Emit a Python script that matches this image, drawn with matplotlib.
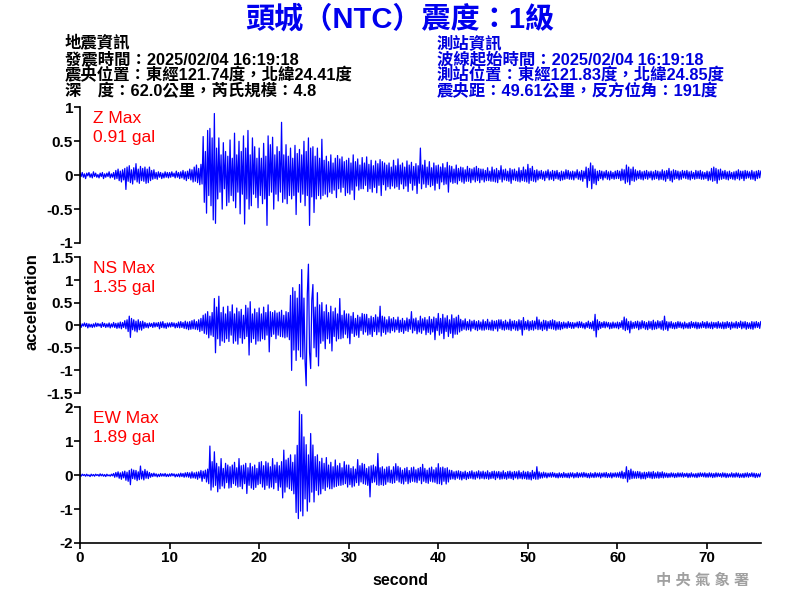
import numpy as np
import matplotlib
matplotlib.use("Agg")
import matplotlib.pyplot as plt
from matplotlib.ticker import FormatStrFormatter

plt.rcParams['font.family'] = ['Liberation Sans', 'Noto Sans CJK TC', 'DejaVu Sans']
plt.rcParams['axes.unicode_minus'] = False

# sampling step of the hand-read traces (seconds)
dt = 0.125

# values in 0.01 gal, 40 samples (5 s) per row
z_vals = [
    3, -2, 4, -3, 2, -5, 3, -1, 4, -3, 2, -4, 5, -2, 3, -3, 1, -4, 3, -2, 4, -5, 2, -3, 3, -2, 5, -4, 2, -3, 4, -6, 7, -5, 9, -8, 6, -10, 8, -7,
    10, -21, 12, -9, 14, -11, 8, -13, 11, -7, 17, -10, 9, -12, 13, -8, 10, -9, 12, -12, 9, -11, 12, -8, 7, -6, 8, -5, 4, -6, 5, -3, 4, -5, 3, -4, 5, -3, 4, -4,
    4, -3, 5, -2, 3, -4, 6, -3, 4, -5, 5, -4, 7, -6, 5, -8, 6, -5, 9, -7, 8, -10, 12, -9, 15, -11, 10, -14, 16, -13, 57, -40, 35, -56, 66, -30, 69, -45, 55, -66,
    91, -71, 40, -35, 55, -25, 30, -50, 48, -20, 35, -45, 28, -40, 52, -30, 25, -38, 62, -48, 30, -25, 50, -57, 35, -28, 58, -72, 40, -35, 66, -50, 30, -45, 55, -28, 42, -33, 25, -48,
    40, -30, 25, -42, 47, -35, 28, -74, 58, -30, 45, -25, 56, -50, 30, -28, 42, -38, 35, -25, 78, -40, 30, -35, 45, -42, 28, -30, 40, -35, 25, -30, 44, -58, 32, -25, 38, -40, 30, -28,
    50, -45, 35, -30, 55, -74, 40, -32, 42, -55, 28, -35, 40, -30, 25, -35, 53, -30, 22, -28, 28, -32, 20, -25, 30, -27, 18, -22, 25, -33, 29, -20, 24, -25, 27, -18, 20, -30, 22, -26,
    25, -28, 18, -22, 30, -36, 20, -16, 24, -22, 15, -20, 26, -20, 18, -15, 27, -24, 16, -20, 22, -25, 14, -18, 21, -26, 17, -15, 23, -30, 20, -14, 18, -22, 15, -17, 18, -20, 12, -16,
    22, -19, 14, -17, 24, -21, 15, -13, 18, -20, 12, -16, 21, -24, 15, -12, 19, -22, 13, -15, 17, -27, 14, -12, 40, -20, 15, -13, 22, -18, 12, -14, 20, -17, 11, -15, 18, -22, 14, -12,
    15, -20, 12, -10, 17, -14, 11, -13, 19, -25, 14, -10, 13, -12, 9, -11, 15, -13, 10, -8, 12, -10, 11, -12, 8, -9, 13, -9, 10, -11, 9, -7, 11, -10, 13, -8, 10, -11, 9, -7,
    9, -10, 7, -8, 11, -8, 6, -9, 12, -9, 8, -10, 10, -11, 7, -6, 14, -10, 8, -7, 9, -8, 6, -9, 10, -12, 8, -7, 9, -8, 6, -9, 11, -10, 7, -8, 12, -9, 8, -10,
    16, -12, 10, -8, 13, -9, 7, -10, 8, -7, 6, -5, 7, -6, 5, -8, 6, -4, 8, -7, 5, -6, 7, -8, 6, -5, 7, -6, 4, -8, 6, -7, 5, -6, 8, -5, 7, -6, 5, -6,
    6, -7, 5, -4, 8, -6, 5, -7, 7, -9, 6, -5, 12, -18, 10, -8, 18, -20, 14, -12, 9, -14, 6, -8, 7, -5, 6, -7, 5, -4, 7, -6, 5, -7, 6, -5, 4, -6, 6, -5,
    7, -5, 6, -8, 9, -7, 8, -12, 15, -10, 12, -14, 9, -8, 12, -9, 8, -7, 6, -5, 7, -6, 5, -7, 6, -5, 7, -6, 5, -4, 6, -7, 5, -6, 7, -5, 6, -7, 5, -6,
    8, -7, 6, -9, 7, -5, 10, -8, 6, -10, 8, -6, 7, -5, 6, -7, 5, -6, 7, -4, 6, -5, 7, -6, 5, -7, 6, -5, 4, -6, 7, -5, 6, -5, 7, -6, 5, -6, 4, -5,
    6, -8, 5, -7, 10, -9, 12, -8, 10, -12, 8, -7, 9, -6, 6, -5, 7, -6, 5, -7, 6, -5, 4, -6, 5, -7, 6, -5, 8, -7, 6, -5, 6, -8, 7, -5, 6, -4, 5, -6,
    7, -6, 5, -8, 6, -5, 7, -4, 6,
]

ns_vals = [
    4, -5, 3, -2, 5, -3, 4, -6, 3, -4, 2, -5, 3, -4, 5, -3, 4, -2, 3, -5, 6, -3, 4, -5, 3, -4, 5, -6, 3, -4, 6, -5, 4, -7, 5, -6, 7, -8, 6, -5,
    10, -8, 12, -14, 20, -27, 15, -10, 12, -13, 9, -15, 12, -10, 8, -11, 9, -7, 6, -5, 4, -6, 5, -3, 4, -5, 6, -4, 5, -3, 6, -8, 7, -5, 8, -6, 4, -7, 5, -4,
    5, -4, 6, -3, 5, -6, 4, -5, 7, -6, 8, -5, 6, -7, 9, -8, 7, -10, 8, -9, 10, -8, 12, -9, 8, -10, 12, -14, 15, -12, 22, -18, 25, -20, 30, -28, 20, -22, 28, -25,
    59, -61, 40, -30, 64, -45, 28, -35, 40, -38, 25, -30, 42, -36, 30, -22, 45, -40, 25, -35, 38, -42, 30, -28, 35, -40, 22, -30, 44, -25, 38, -66, 52, -38, 25, -30, 36, -42, 28, -35,
    38, -35, 25, -30, 40, -32, 28, -22, 45, -59, 30, -25, 28, -20, 32, -30, 27, -22, 29, -25, 33, -26, 22, -28, 30, -26, 28, -32, 66, -100, 83, -55, 75, -78, 60, -55, 90, -70, 123, -75,
    60, -80, -134, 70, 135, -60, -96, 55, 90, -50, 40, -70, 72, -90, 45, -40, 50, -35, 30, -52, 45, -30, 28, -40, 42, -57, 30, -25, 38, -35, 25, -30, 59, -30, 22, -28, 32, -20, 25, -28,
    25, -41, 20, -18, 28, -25, 15, -22, 22, -27, 18, -12, 26, -20, 24, -15, 24, -22, 15, -20, 20, -25, 17, -14, 23, -21, 18, -15, 42, -24, 20, -16, 18, -20, 12, -15, 19, -17, 14, -12,
    17, -15, 12, -10, 18, -16, 11, -14, 15, -18, 10, -12, 16, -14, 13, -9, 30, -17, 14, -12, 16, -19, 10, -15, 20, -18, 14, -11, 17, -21, 12, -16, 19, -20, 13, -15, 18, -32, 15, -12,
    26, -22, 15, -18, 24, -30, 16, -14, 21, -25, 12, -18, 23, -28, 15, -20, 18, -20, 22, -15, 13, -12, 10, -9, 14, -11, 8, -10, 12, -13, 9, -7, 11, -10, 8, -12, 10, -9, 7, -11,
    12, -11, 8, -9, 13, -10, 7, -11, 11, -12, 9, -8, 10, -13, 12, -7, 12, -10, 8, -11, 11, -9, 7, -10, 13, -12, 9, -8, 10, -11, 8, -12, 12, -9, 10, -22, 17, -10, 8, -9,
    11, -12, 8, -10, 10, -11, 9, -8, 18, -10, 12, -9, 7, -12, 11, -9, 10, -12, 8, -7, 10, -8, 12, -9, 10, -11, 7, -9, 8, -10, 6, -8, 7, -6, 5, -7, 8, -5, 6, -7,
    6, -7, 5, -4, 7, -6, 8, -5, 7, -6, 4, -8, 6, -5, 9, -7, 6, -8, 9, -12, 24, -26, 12, -10, 8, -7, 6, -5, 8, -6, 7, -4, 6, -8, 5, -7, 7, -6, 5, -6,
    7, -8, 6, -5, 10, -9, 18, -12, 14, -10, 8, -17, 9, -8, 6, -7, 8, -6, 9, -10, 7, -8, 10, -6, 8, -9, 6, -10, 9, -7, 8, -10, 11, -9, 7, -8, 10, -6, 8, -9,
    10, -11, 20, -9, 8, -12, 7, -6, 8, -7, 5, -8, 6, -7, 8, -5, 7, -6, 5, -8, 7, -6, 4, -7, 6, -7, 8, -5, 6, -6, 7, -8, 6, -7, 5, -6, 8, -5, 6, -7,
    8, -6, 5, -7, 7, -8, 6, -5, 6, -7, 8, -6, 5, -7, 7, -8, 6, -7, 8, -5, 6, -9, 7, -6, 5, -6, 8, -7, 6, -5, 9, -8, 7, -6, 8, -9, 6, -7, 5, -8,
    8, -9, 7, -6, 8, -5, 6, -7, 8,
]

ew_vals = [
    2, -3, 3, -1, 2, -3, 3, -2, 1, -4, 3, -2, 2, -3, 3, -1, 2, -3, 4, -2, 3, -3, 2, -4, 3, -2, 1, -3, 3, -2, 5, -6, 8, -5, 10, -9, 7, -12, 10, -8,
    12, -15, 9, -18, 14, -28, 18, -10, 15, -12, 14, -16, 10, -13, 27, -11, 12, -14, 17, -9, 12, -10, 8, -6, 5, -4, 6, -3, 4, -5, 3, -4, 5, -3, 4, -3, 5, -4, 3, -4,
    4, -3, 5, -2, 4, -5, 3, -4, 4, -5, 6, -4, 5, -6, 7, -5, 8, -6, 7, -9, 10, -8, 7, -9, 9, -12, 10, -8, 14, -18, 12, -10, 15, -20, 18, -25, 86, -44, 40, -35,
    69, -30, 35, -49, 25, -40, 49, -32, 20, -38, 35, -22, 30, -38, 25, -36, 30, -25, 38, -30, 22, -35, 49, -33, 28, -40, 30, -25, 35, -54, 22, -30, 35, -38, 25, -42, 30, -36, 20, -28,
    38, -25, 40, -35, 28, -42, 40, -30, 36, -38, 25, -35, 49, -40, 30, -22, 38, -45, 28, -35, 40, -67, 74, -50, 45, -35, 50, -40, 60, -45, 38, -55, 60, -110, 88, -128, 189, -106, 179, -120,
    113, -70, 90, -106, 60, -79, 123, -50, 89, -79, 55, -45, 60, -58, 40, -55, 50, -40, 35, -45, 52, -35, 30, -40, 38, -40, 25, -35, 45, -33, 28, -30, 35, -30, 22, -28, 40, -25, 30, -35,
    30, -28, 20, -35, 25, -32, 18, -22, 46, -30, 28, -20, 35, -25, 32, -27, 20, -30, 25, -64, 28, -22, 30, -20, 25, -28, 64, -30, 22, -28, 25, -30, 18, -27, 24, -20, 26, -22, 15, -24,
    25, -22, 34, -15, 26, -20, 22, -24, 15, -26, 20, -18, 23, -25, 14, -21, 22, -18, 24, -20, 16, -22, 20, -15, 23, -25, 32, -18, 20, -22, 15, -24, 21, -18, 24, -20, 16, -21, 22, -25,
    34, -25, 22, -28, 24, -18, 20, -26, 22, -20, 15, -12, 14, -11, 10, -13, 12, -9, 13, -12, 11, -14, 9, -10, 12, -13, 8, -10, 11, -9, 13, -11, 9, -12, 10, -8, 13, -11, 10, -9,
    12, -11, 9, -10, 13, -12, 8, -10, 11, -9, 12, -13, 10, -8, 11, -12, 9, -11, 13, -10, 8, -12, 11, -9, 12, -10, 9, -13, 11, -8, 10, -11, 13, -9, 8, -11, 12, -10, 9, -12,
    11, -12, 8, -14, 14, -10, 9, -12, 25, -12, 10, -9, 7, -8, 9, -6, 7, -8, 6, -5, 7, -6, 8, -5, 6, -7, 5, -8, 7, -6, 5, -7, 8, -6, 5, -7, 6, -8, 7, -5,
    7, -8, 5, -6, 8, -7, 6, -5, 7, -6, 8, -5, 6, -7, 5, -8, 7, -6, 5, -7, 8, -6, 6, -5, 7, -8, 6, -5, 7, -6, 8, -7, 5, -6, 7, -8, 6, -5, 7, -6,
    7, -6, 9, -8, 12, -10, 8, -9, 25, -20, 14, -12, 18, -10, 12, -9, 10, -9, 11, -8, 10, -11, 7, -10, 9, -11, 8, -7, 10, -8, 9, -10, 11, -9, 7, -8, 10, -9, 8, -7,
    10, -8, 7, -6, 6, -7, 5, -6, 7, -5, 6, -7, 5, -6, 7, -5, 6, -5, 7, -6, 5, -4, 6, -7, 5, -6, 7, -5, 4, -6, 5, -7, 6, -5, 7, -4, 6, -5, 7, -6,
    5, -6, 7, -5, 6, -7, 5, -6, 7, -5, 6, -4, 5, -6, 7, -5, 6, -7, 5, -6, 4, -5, 7, -6, 5, -6, 7, -5, 6, -7, 4, -6, 5, -7, 6, -5, 7, -6, 5, -4,
    7, -5, 6, -7, 5, -6, 4, -5, 6,
]

components = ["Z", "NS", "EW"]
max_gal = ["0.91", "1.35", "1.89"]
y_limits = [1, 1.5, 2]
y_steps = [0.5, 0.5, 1]
x_ticks = [0, 10, 20, 30, 40, 50, 60, 70]

title = "頭城（NTC）震度：1級"
quake_info = ["地震資訊",
              "發震時間：2025/02/04 16:19:18",
              "震央位置：東經121.74度，北緯24.41度",
              "深　度：62.0公里，芮氏規模：4.8"]
station_info = ["測站資訊",
                "波線起始時間：2025/02/04 16:19:18",
                "測站位置：東經121.83度，北緯24.85度",
                "震央距：49.61公里，反方位角：191度"]

fig = plt.figure(figsize=(8, 6), dpi=100)

fig.text(0.5, 0.968, title, ha="center", va="center", fontsize=21,
         fontweight="bold", color="#0000ee")
for i, line in enumerate(quake_info):
    fig.text(0.081, 0.928 - i * 0.0267, line, ha="left", va="center",
             fontsize=11.8, fontweight="bold", color="black")
for i, line in enumerate(station_info):
    fig.text(0.546, 0.928 - i * 0.0267, line, ha="left", va="center",
             fontsize=11.8, fontweight="bold", color="#0000dd")

tops = [0.821, 0.571, 0.321]
height = 0.226
traces = [z_vals, ns_vals, ew_vals]

for k in range(3):
    ax = fig.add_axes([0.1, tops[k] - height, 0.851, height])
    vals = np.array(traces[k]) / 100.0
    t = np.arange(len(vals)) * dt
    ax.plot(t, vals, color="blue", lw=0.9)
    lim = y_limits[k]
    ax.set_ylim(-lim, lim)
    ax.set_xlim(0, 76)
    ax.set_yticks(np.arange(-lim, lim + 0.01, y_steps[k]))
    ax.yaxis.set_major_formatter(FormatStrFormatter("%g"))
    for s in ["top", "right"]:
        ax.spines[s].set_visible(False)
    ax.spines["left"].set_linewidth(1.2)
    ax.tick_params(axis="y", direction="out", length=4, width=1.2,
                   labelsize=11, pad=1)
    for lab in ax.get_yticklabels():
        lab.set_fontweight("bold")
    ax.text(0.019, 0.975, components[k] + " Max\n" + max_gal[k] + " gal",
            transform=ax.transAxes, ha="left", va="top", color="red",
            fontsize=12.5, linespacing=1.35)
    if k < 2:
        ax.spines["bottom"].set_visible(False)
        ax.set_xticks([])
    else:
        ax.spines["bottom"].set_linewidth(1.2)
        ax.set_xticks(x_ticks)
        ax.tick_params(axis="x", direction="out", length=4, width=1.2,
                       labelsize=11, pad=2)
        for lab in ax.get_xticklabels():
            lab.set_fontweight("bold")

fig.text(0.04, 0.497, "acceleration", rotation=90, ha="center", va="center",
         fontsize=12, fontweight="bold")
fig.text(0.5, 0.033, "second", ha="center", va="center",
         fontsize=11.5, fontweight="bold")
fig.text(0.878, 0.032, "中 央 氣 象 署", ha="center", va="center",
         fontsize=11, color="#a0a0a0", fontweight="bold")

fig.savefig("out.png", dpi=100)
